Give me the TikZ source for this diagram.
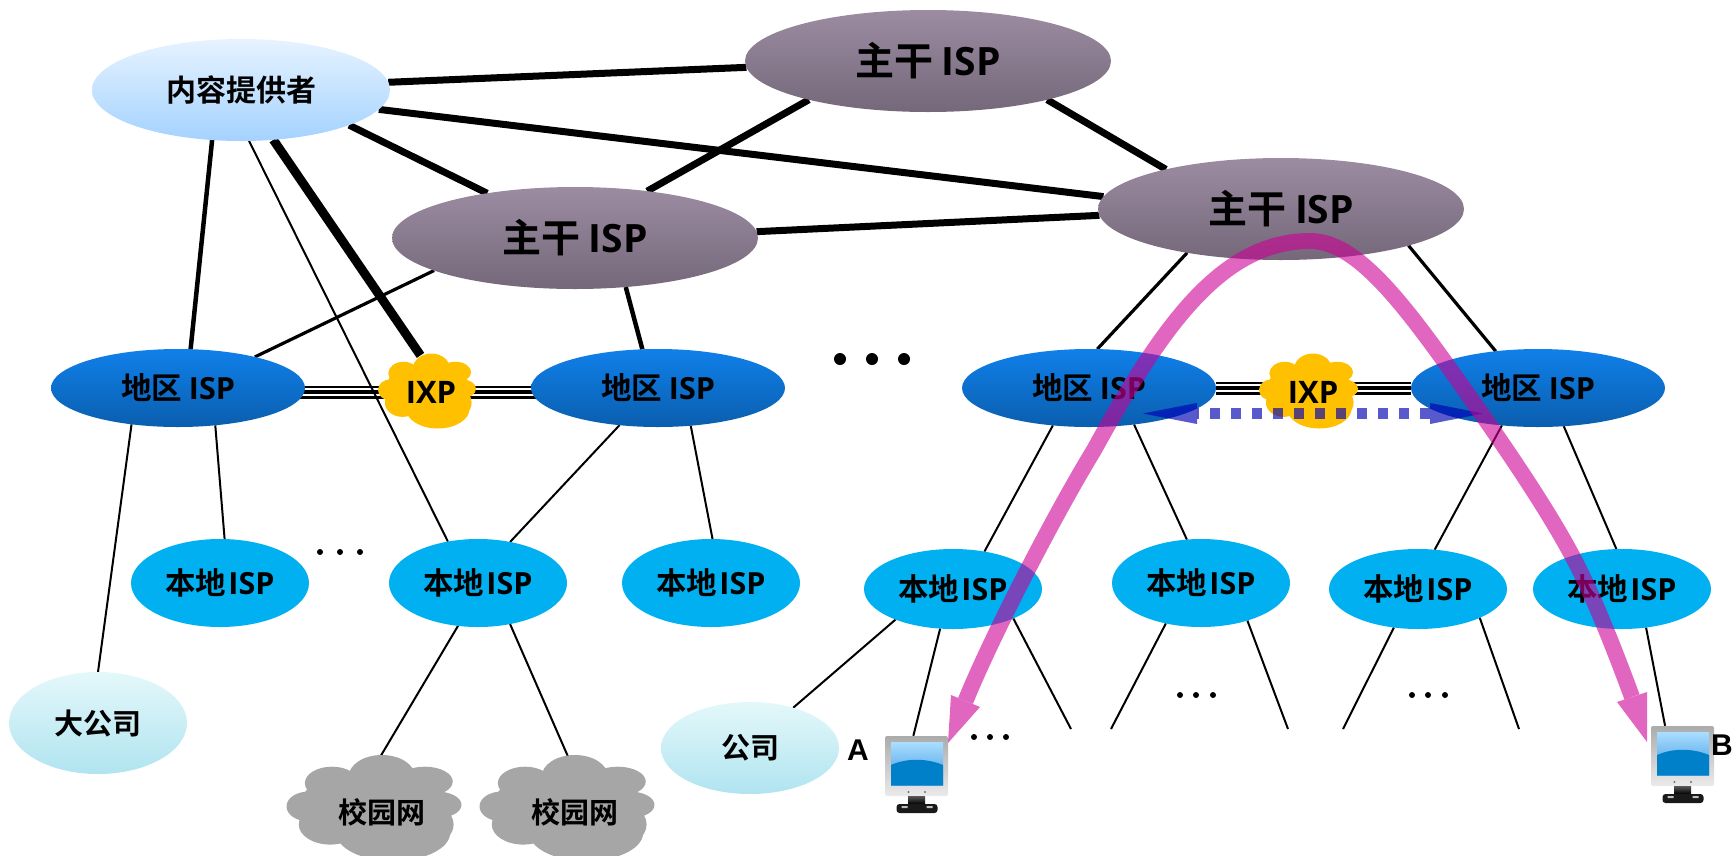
\documentclass[tikz,border=0pt]{standalone}
\usepackage{fontspec}
\setmainfont{Noto Sans CJK SC}[BoldFont=* Bold]
\newfontfamily\latb{Open Sans}[BoldFont=* Bold]
\newfontfamily\arib{Liberation Sans}[BoldFont=* Bold]
\usetikzlibrary{shapes.geometric,arrows.meta,backgrounds,calc}
\newcommand{\fsz}[1]{\fontsize{#1}{#1}\selectfont\bfseries}
\newcommand{\isp}{{\latb\bfseries ISP}}
\newcommand{\ixp}{{\latb\bfseries IXP}}
\definecolor{bbtop}{HTML}{9C8CA2}
\definecolor{bbbot}{HTML}{75687A}
\definecolor{regtop}{HTML}{1080EA}
\definecolor{regbot}{HTML}{0A5EAE}
\definecolor{localc}{HTML}{00B0F0}
\definecolor{conttop}{HTML}{E6F3FF}
\definecolor{contbot}{HTML}{A4D2FF}
\definecolor{cotop}{HTML}{E4F8FA}
\definecolor{cobot}{HTML}{B0E4F0}
\definecolor{ixpc}{HTML}{FFC000}
\definecolor{campc}{HTML}{A6A6A6}
\definecolor{pinkc}{RGB}{203,0,150}
\definecolor{dotblue}{RGB}{0,0,190}
\newcommand{\pptcloud}[5]{% cx cy hw hh colour
  \begin{scope}[shift={(#1,#2)},x=#3pt,y=-#4pt]
    \fill[#5]
      (0,-.09) ellipse [x radius=.84,y radius=.62]
      (.09,-.59) ellipse [x radius=.38,y radius=.41]
      (-.48,-.47) ellipse [x radius=.31,y radius=.31]
      (.58,-.5) ellipse [x radius=.32,y radius=.28]
      (-.75,-.03) ellipse [x radius=.25,y radius=.28]
      (.72,-.06) ellipse [x radius=.28,y radius=.25]
      (-.5,.31) ellipse [x radius=.36,y radius=.38]
      (.53,.31) ellipse [x radius=.38,y radius=.44]
      (.22,.47) ellipse [x radius=.65,y radius=.53];
  \end{scope}}
\tikzset{
  ell/.style={shape=ellipse,inner sep=0pt,outer sep=0pt,text=black},
  backbone/.style={ell,minimum width=366,minimum height=102,top color=bbtop,bottom color=bbbot,font=\fsz{39}},
  regional/.style={ell,minimum width=254,minimum height=78,top color=regtop,bottom color=regbot,font=\fsz{30.5}},
  localisp/.style={ell,minimum width=178,minimum height=88,fill=localc,font=\fsz{30.5}},
  localflat/.style={localisp,minimum height=80},
  content/.style={ell,minimum width=298,minimum height=102,top color=conttop,bottom color=contbot,font=\fsz{30}},
  firm/.style={ell,minimum width=178,minimum height=102,top color=cotop,bottom color=cobot,font=\fsz{29}},
  ixplabel/.style={ell,minimum width=98,minimum height=75,font=\fsz{31}},
  campus/.style={ell,minimum width=175,minimum height=110,font=\fsz{29}},
  linkA/.style={line width=7},
  linkB/.style={line width=4.5},
  linkC/.style={line width=3.2},
  linkD/.style={line width=2},
  linkX/.style={line width=9},
  tripleO/.style={line width=13,black},
  tripleW/.style={line width=7.5,white},
  tripleM/.style={line width=3.5,black},
  bigdot/.style={circle,fill=black,minimum size=12,inner sep=0pt},
  smalldot/.style={circle,fill=black,minimum size=6,inner sep=0pt},
  pair/.style={font=\arib\fontsize{30}{30}\selectfont\bfseries,inner sep=0pt},
  pcicon/.pic={
    \node[shape=rectangle,rounded corners=2,minimum width=63,minimum height=60,inner sep=0pt,top color=black!33,bottom color=black!8] (-frame) at (0,0) {};
    \fill[top color=black!65,bottom color=black] (-8.5,30) rectangle (8.5,38);
    \fill[black!90,rounded corners=3] (-20,38) rectangle (21,47);
    \fill[black!25] (-15,40) rectangle (-9,42) (10,40) rectangle (16,42);
    \fill[top color={rgb,255:red,170;green,222;blue,255},bottom color={rgb,255:red,60;green,150;blue,225}] (-25.5,-24) rectangle (26.5,19);
    \fill[color={rgb,255:red,0;green,128;blue,200}] (-25.5,19) -- (-25.5,-1) .. controls (-10,-8) and (10,-8) .. (26.5,-1) -- (26.5,19) -- cycle;
    \fill[black!55] (-8,26) circle (1.2) (8.5,26) circle (1.2);
  }
}
\begin{document}
\begin{tikzpicture}[x=1pt,y=-1pt]
\path[use as bounding box,clip] (0,0) rectangle (1732,855);

% cloud bodies
\pptcloud{427}{391}{49}{37.5}{ixpc}
\pptcloud{1308.5}{391}{49.5}{37.5}{ixpc}
\pptcloud{374}{808}{87.5}{53}{campc}
\pptcloud{567}{808}{87.5}{53}{campc}

% nodes
\node[content] (cont) at (241,90) {内容提供者};
\node[backbone] (bbA) at (928,61) {主干 \isp};
\node[backbone] (bbB) at (575,238) {主干 \isp};
\node[backbone] (bbC) at (1281,209) {主干 \isp};
\node[regional] (regA) at (178,388) {地区 \isp};
\node[regional] (regB) at (658,388) {地区 \isp};
\node[regional] (regC) at (1089,388) {地区 \isp};
\node[regional] (regD) at (1538,388) {地区 \isp};
\node[localisp] (locA) at (220,583) {本地\hspace{2pt}\isp};
\node[localisp] (locB) at (478,583) {本地\hspace{2pt}\isp};
\node[localisp] (locC) at (711,583) {本地\hspace{2pt}\isp};
\node[localflat] (locD) at (953,589) {本地\hspace{2pt}\isp};
\node[localisp] (locE) at (1201,583) {本地\hspace{2pt}\isp};
\node[localflat] (locF) at (1418,589) {本地\hspace{2pt}\isp};
\node[localflat] (locG) at (1622,589) {本地\hspace{2pt}\isp};
\node[firm] (bigco) at (98,723) {大公司};
\node[firm,minimum height=92] (comp) at (750,748) {公司};
\node[ixplabel] (ixpA) at (431,392) {\ixp};
\node[ixplabel] (ixpB) at (1313,392) {\ixp};
\node[campus] (campA) at (382,812) {校园网};
\node[campus] (campB) at (575,812) {校园网};
\pic (pcA) at (916.5,766) {pcicon};
\pic (pcB) at (1682.5,756) {pcicon};
\node[pair] (labA) at (858,750) {A};
\node[pair] (labB) at (1722,745) {B};

\foreach \n/\x in {a/840,b/872,c/904} \node[bigdot] (big\n) at (\x,359) {};
\foreach \n/\x/\y in {a/320/552,b/340/552,c/360/552,d/974/737,e/990/737,f/1006/737,g/1180/695,h/1196/695,i/1213/695,j/1412/695,k/1428/695,l/1445/695}
  \node[smalldot] (small\n) at (\x,\y) {};

\coordinate (endA) at (1071,729);
\coordinate (endB) at (1111,729);
\coordinate (endC) at (1288,729);
\coordinate (endD) at (1343,729);
\coordinate (endE) at (1519,729);

\begin{pgfonlayer}{background}
  % triple IXP links
  \draw[tripleO] (regA |- ixpA) -- (regB |- ixpA);
  \draw[tripleW] (regA |- ixpA) -- (regB |- ixpA);
  \draw[tripleM] (regA |- ixpA) -- (regB |- ixpA);
  \draw[line width=13,black,opacity=.15,yshift=-4] (regC) -- (regD);
  \draw[tripleO] (regC) -- (regD);
  \draw[tripleW] (regC) -- (regD);
  \draw[tripleM] (regC) -- (regD);
  % backbone links
  \draw[linkA] (cont.3.5) -- (bbA.182.8);
  \draw[linkA] (cont.-8.4) -- (bbC.176.1);
  \draw[linkA] (cont.-18.6) -- (bbB.153.2);
  \draw[linkA] (bbA.198.4) -- (bbB.33.7);
  \draw[linkA] (bbA.-18.6) -- (bbC.161);
  \draw[linkA] (bbB.2.8) -- (bbC.182.8);
  \draw[linkB] (cont.240.4) -- (regA.72.9);
  \draw[linkX] (cont.-57.4) -- (ixpA.106);
  \draw[linkD] (cont.-81.1) -- (locB.126.4);
  \draw[linkC] (bbB.193) -- (regA.22.5);
  \draw[linkB] (bbB.-44.4) -- (regB.112.3);
  \draw[linkC] (bbC.205.6) -- (regC.78.4);
  \draw[linkC] (bbC.-16.1) -- (regD.139.1);
  % access links
  \draw[linkD] (regA.218.4) -- (bigco.north);
  \draw[linkD] (regA.-45.8) -- (locA.84.7);
  \draw[linkD] (regB.224.2) -- (locB.52);
  \draw[linkD] (regB.-49) -- (locC.88.7);
  \draw[linkD] (regC.226.6) -- (locD.50.6);
  \draw[linkD] (regC.-39.4) -- (locE.108);
  \draw[linkD] (regD.226.5) -- (locF.67.7);
  \draw[linkD] (regD.-56.7) -- (locG.98.7);
  \draw[linkD] (locB.245.6) -- (campA.92);
  \draw[linkD] (locB.-52.7) -- (campB.97.3);
  \draw[linkD] (locD.208.2) -- (comp.43.6);
  \draw[linkD] (locD.252.5) -- (pcA-frame.96.7);
  \draw[linkD] (locD.-26.6) -- (endA);
  \draw[linkD] (locE.229.4) -- (endB);
  \draw[linkD] (locE.-39) -- (endC);
  \draw[linkD] (locF.238.1) -- (endD);
  \draw[linkD] (locF.-25) -- (endE);
  \draw[linkD] (locG.-58.8) -- (pcB-frame.120.3);
\end{pgfonlayer}

% dotted IXP path between the two regional ISPs
\coordinate (dotL) at (1143,413.5);
\coordinate (dotR) at (1483,413.5);
\coordinate (dotLb) at (1197,413.5);
\coordinate (dotRb) at (1430,413.5);
\begin{scope}[shift={(2,5)},black,opacity=.08]
  \draw[line width=11,dash pattern=on 10 off 11,dash phase=8] (dotLb) -- (dotRb);
  \fill (dotL) -- ($(dotLb)+(0,-10.5)$) -- ($(dotLb)+(0,10.5)$) -- cycle;
  \fill (dotR) -- ($(dotRb)+(0,-10.5)$) -- ($(dotRb)+(0,10.5)$) -- cycle;
\end{scope}
\begin{scope}[dotblue,opacity=.62]
  \draw[line width=11,dash pattern=on 10 off 11,dash phase=8] (dotLb) -- (dotRb);
  \fill (dotL) -- ($(dotLb)+(0,-10.5)$) -- ($(dotLb)+(0,10.5)$) -- cycle;
  \fill (dotR) -- ($(dotRb)+(0,-10.5)$) -- ($(dotRb)+(0,10.5)$) -- cycle;
\end{scope}

% pink route from A to B
\coordinate (tipA) at (948,743);
\coordinate (tipB) at (1647,742);
\coordinate (baseA) at (965.5,701);
\coordinate (baseB) at (1632,697);
\begin{scope}[transparency group,opacity=.6]
\draw[pinkc,line width=16]
  (baseA) .. controls (988,645) and (1049,524) .. (1094,450)
  .. controls (1160,330) and (1220,241) .. (1310,241)
  .. controls (1350,241) and (1390,285) .. (1447,365)
  .. controls (1487,421) and (1548,507) .. (1578,567)
  .. controls (1598,607) and (1618,659) .. (baseB);
\fill[pinkc] (tipA) -- (951,695) -- (980,707) -- cycle;
\fill[pinkc] (tipB) -- (1617,702) -- (1647,692) -- cycle;
\end{scope}
\end{tikzpicture}
\end{document}
